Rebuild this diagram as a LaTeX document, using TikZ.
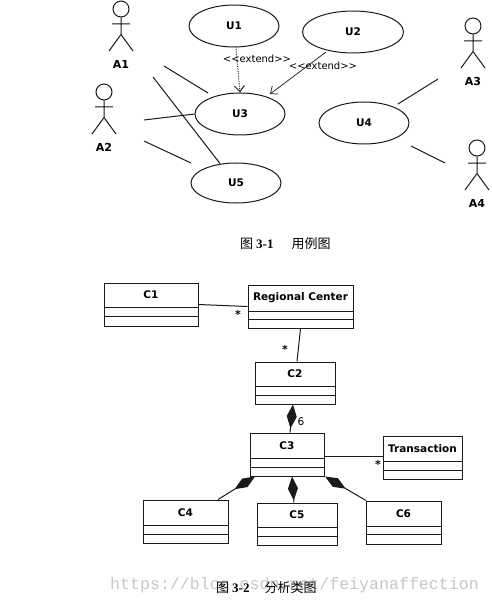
\documentclass[tikz,border=0pt]{standalone}
\usepackage{fontspec}
\setmainfont{DejaVu Sans}
\newfontfamily\cjkfont{Noto Sans CJK SC}
\newfontfamily\numfont{Liberation Serif}
\newfontfamily\wmfont{Liberation Mono}
\usetikzlibrary{shapes.geometric,arrows.meta}
\definecolor{ink}{HTML}{1A1A1A}
\tikzset{
  ink line/.style={draw=ink,line width=1pt},
  usecase/.style={ellipse,ink line,inner sep=0pt,minimum width=90pt,minimum height=42pt,font=\fontsize{10.5}{12}\bfseries},
  actorhead/.style={circle,ink line,inner sep=0pt,minimum size=16pt},
  actorlabel/.style={inner sep=0pt,font=\fontsize{11}{12}\bfseries},
  classbox/.style={rectangle,ink line,inner sep=0pt},
  classname/.style={inner sep=0pt,font=\fontsize{10.5}{12}\bfseries},
  assoc/.style={ink line},
  star/.style={inner sep=0pt,font=\fontsize{11}{12}\bfseries},
  depend/.style={draw=ink,line width=0.7pt,-{Straight Barb[length=6pt,width=10pt]}},
  stereotype/.style={inner sep=0pt,font=\fontsize{10}{12}\selectfont},
  compose/.style={ink line,{Diamond[length=24pt,width=10pt,fill=ink]}-},
  caption/.style={inner sep=0pt,font=\fontsize{13}{14}\cjkfont},
  watermark/.style={inner sep=0pt,text=black!22,font=\fontsize{16.6}{18}\wmfont}
}
% name, x, y of head centre, label
\newcommand{\stickman}[4]{%
  \node[actorhead] (#1) at (#2,#3) {};
  \draw[ink line] (#1.south) -- ++(0,17) coordinate (#1hip)
    (#2-9,#3+15) -- (#2+9,#3+15)
    (#2-12,#3+42) -- (#1hip) -- (#2+12,#3+42);
  \node[actorlabel] (#1t) at (#2,#3+55) {#4};
}
% name, x1, y1, x2, y2, line 1, line 2, text
\newcommand{\umlclass}[8]{%
  \node[classbox,minimum width={(#4-#2)*1pt},minimum height={(#5-#3)*1pt}] (#1) at ({(#2+#4)/2},{(#3+#5)/2}) {};
  \node[classname] (#1t) at ({(#2+#4)/2},{(#3+#6)/2}) {#8};
  \draw[ink line] (#2,#6) -- (#4,#6) (#2,#7) -- (#4,#7);
}
\begin{document}
\begin{tikzpicture}[x=1pt,y=-1pt]
\useasboundingbox[fill=white] (0,0) rectangle (491,604);
% use cases
\node[usecase] (u1) at (234,26) {U1};
\node[usecase,minimum width=101pt] (u2) at (353,32) {U2};
\node[usecase] (u3) at (240,114) {U3};
\node[usecase] (u4) at (364,123) {U4};
\node[usecase,minimum height=40pt] (u5) at (236,183) {U5};
% actors
\stickman{a1}{121}{9}{A1}
\stickman{a2}{104}{92}{A2}
\stickman{a3}{473}{26}{A3}
\stickman{a4}{477}{148}{A4}
% free ends of actor lines
\coordinate (p1) at (164,66);
\coordinate (p1e) at (208,93);
\coordinate (p2) at (153,77);
\coordinate (p3) at (144,120);
\coordinate (p4) at (144,141);
\coordinate (p4e) at (191,163);
\coordinate (p5) at (438,79);
\coordinate (p5e) at (398,104);
\coordinate (p6) at (445,163);
\coordinate (p6e) at (411,146);
\draw[assoc] (p1) -- (p1e);
\draw[assoc] (p2) -- ([xshift=-16pt,yshift=-1pt]u5.north);
\draw[assoc] (p3) -- (u3.west);
\draw[assoc] (p4) -- (p4e);
\draw[assoc] (p5) -- (p5e);
\draw[assoc] (p6) -- (p6e);
% extend
\coordinate (e2) at (326,52);
\coordinate (e2e) at (270,94);
\draw[depend,densely dotted,line width=1pt] ([xshift=2pt]u1.south) -- (u3.north);
\draw[depend] (e2) -- (e2e);
\node[stereotype] (x1) at (257,59) {<{}<extend>{}>};
\node[stereotype] (x2) at (323,66) {<{}<extend>{}>};
% captions
\node[caption,anchor=west] (cap1) at (240,244) {图\hspace{3pt}{\numfont\bfseries 3-1}\hspace{18pt}用例图};
\node[watermark,anchor=west] (wm) at (110,585) {https://blog.csdn.net/feiyanaffection};
\node[caption,anchor=west] (cap2) at (216,588) {图\hspace{3pt}{\numfont\bfseries 3-2}\hspace{15pt}分析类图};
% classes
\umlclass{c1}{104}{283}{198}{326}{307}{316}{C1}
\umlclass{rc}{248}{285}{353}{328}{311}{319}{Regional Center}
\umlclass{c2}{255}{362}{335}{404}{386}{395}{C2}
\umlclass{c3}{250}{433}{324}{476}{458}{467}{C3}
\umlclass{tr}{383}{436}{462}{479}{461}{470}{Transaction}
\umlclass{c4}{143}{500}{228}{543}{525}{534}{C4}
\umlclass{c5}{257}{503}{337}{545}{527}{536}{C5}
\umlclass{c6}{366}{501}{441}{544}{526}{534}{C6}
% class connectors
\draw[assoc] (c1.east) -- (rc.west);
\draw[assoc] (rc.south) -- ([xshift=2pt]c2.north);
\draw[compose] ([xshift=-2pt]c2.south) -- ([xshift=3pt]c3.north);
\draw[assoc] ([yshift=-1.5pt]c3.east) -- ([yshift=1.5pt]tr.west);
\draw[compose] ([xshift=-32pt]c3.south) -- ([xshift=32.5pt]c4.north);
\draw[compose] ([xshift=5pt]c3.south) -- ([xshift=-3pt]c5.north);
\draw[compose] ([xshift=38pt]c3.south) -- ([xshift=-37.5pt]c6.north);
\node[star] (s1) at (238,314) {*};
\node[star] (s2) at (285,349) {*};
\node[star] (s3) at (378,464) {*};
\node[inner sep=0pt,font=\fontsize{10.5}{12}\selectfont] (six) at (301,422) {6};
\end{tikzpicture}
\end{document}
